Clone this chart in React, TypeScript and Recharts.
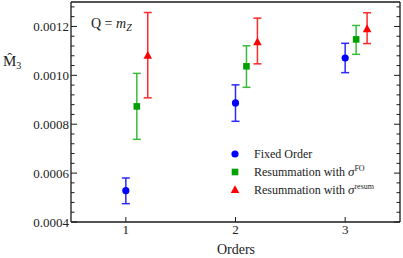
import React from 'react';
import { ScatterChart, Scatter, XAxis, YAxis, ErrorBar, Legend } from 'recharts';

const orders = [1, 2, 3];

const fixedValues = [0.000528, 0.000887, 0.001071];
const fixedLow = [0.000475, 0.000812, 0.001011];
const fixedHigh = [0.00058, 0.000961, 0.001131];

const resumFOValues = [0.000873, 0.001037, 0.001147];
const resumFOLow = [0.000738, 0.000951, 0.001086];
const resumFOHigh = [0.001008, 0.001121, 0.001204];

const resumValues = [0.00108, 0.001135, 0.001189];
const resumLow = [0.000908, 0.001047, 0.00113];
const resumHigh = [0.001257, 0.001234, 0.001256];

const xTicks = [1, 2, 3];
const yMajorTicks = [0.0004, 0.0006, 0.0008, 0.001, 0.0012];
const yTickLabels = ['0.0004', '0.0006', '0.0008', '0.0010', '0.0012'];
const yAllTicks = [
  0.0004, 0.00044, 0.00048, 0.00052, 0.00056, 0.0006, 0.00064, 0.00068, 0.00072, 0.00076,
  0.0008, 0.00084, 0.00088, 0.00092, 0.00096, 0.001, 0.00104, 0.00108, 0.00112, 0.00116,
  0.0012, 0.00124, 0.00128,
];

const offsets = [0, 0.1, 0.2];

const build = (vals: number[], lo: number[], hi: number[], off: number) =>
  orders.map((o, i) => ({ x: o + off, y: vals[i], err: [vals[i] - lo[i], hi[i] - vals[i]] }));

const fixedData = build(fixedValues, fixedLow, fixedHigh, offsets[0]);
const resumFOData = build(resumFOValues, resumFOLow, resumFOHigh, offsets[1]);
const resumData = build(resumValues, resumLow, resumHigh, offsets[2]);

const BLUE = '#0000ff';
const BLUE_BAR = '#2a2aff';
const GREEN = '#00a000';
const GREEN_BAR = '#3cbc3c';
const RED = '#ff0000';
const RED_BAR = '#ff2a2a';
const FRAME = '#1a1a1a';
const FONT = '"Liberation Serif", "Times New Roman", "DejaVu Serif", serif';
const TXT = { fontFamily: FONT };

const isMajor = (v: number) => yMajorTicks.some((m) => Math.abs(m - v) < 1e-9);
const labelFor = (v: number) => {
  const i = yMajorTicks.findIndex((m) => Math.abs(m - v) < 1e-9);
  return i >= 0 ? yTickLabels[i] : '';
};

const LeftTick = (props: any) => {
  const { x, y, payload } = props;
  const major = isMajor(payload.value);
  return (
    <g>
      <line x1={x} y1={y} x2={x + (major ? 6 : 3.5)} y2={y} stroke={FRAME} strokeWidth={1} />
      {major && (
        <text x={x - 2} y={y + 4.5} textAnchor="end" style={TXT} fontSize={13} fill="#222">
          {labelFor(payload.value)}
        </text>
      )}
    </g>
  );
};

const RightTick = (props: any) => {
  const { x, y, payload } = props;
  const major = isMajor(payload.value);
  return <line x1={x} y1={y} x2={x - (major ? 6 : 3.5)} y2={y} stroke={FRAME} strokeWidth={1} />;
};

const BottomTick = (props: any) => {
  const { x, y, payload } = props;
  return (
    <g>
      <line x1={x} y1={y} x2={x} y2={y - 5} stroke={FRAME} strokeWidth={1} />
      <text x={x} y={y + 12} textAnchor="middle" style={TXT} fontSize={13} fill="#222">
        {payload.value}
      </text>
    </g>
  );
};

const Circle = (props: any) => <circle cx={props.cx} cy={props.cy} r={3.6} fill={BLUE} />;
const Square = (props: any) => (
  <rect x={props.cx - 3.3} y={props.cy - 3.3} width={6.6} height={6.6} fill={GREEN} />
);
const Triangle = (props: any) => {
  const { cx, cy } = props;
  return <polygon points={`${cx},${cy - 4.8} ${cx + 4.3},${cy + 3} ${cx - 4.3},${cy + 3}`} fill={RED} />;
};

const legendItems = [
  { key: 'fo', symbol: 'circle', main: 'Fixed Order', sup: '' },
  { key: 'rfo', symbol: 'square', main: 'Resummation with ', sup: 'FO' },
  { key: 'rr', symbol: 'triangle', main: 'Resummation with ', sup: 'resum' },
];

const LegendContent = () => (
  <svg width={170} height={56} style={{ display: 'block', overflow: 'visible' }}>
    {legendItems.map((it, i) => {
      const cy = 9 + i * 18;
      return (
        <g key={it.key}>
          {it.symbol === 'circle' && <circle cx={5} cy={cy} r={3.6} fill={BLUE} />}
          {it.symbol === 'square' && <rect x={1.7} y={cy - 3.3} width={6.6} height={6.6} fill={GREEN} />}
          {it.symbol === 'triangle' && (
            <polygon points={`5,${cy - 4.8} 9.3,${cy + 3} 0.7,${cy + 3}`} fill={RED} />
          )}
          <text x={24} y={cy + 4} style={TXT} fontSize={12} fill="#222">
            {it.main}
            {it.sup && (
              <>
                <tspan fontStyle="italic" fontSize={13}>σ</tspan>
                <tspan fontSize={8} dy={-5.5}>{it.sup}</tspan>
              </>
            )}
          </text>
        </g>
      );
    })}
  </svg>
);

export default function App() {
  return (
    <div style={{ position: 'absolute', left: 0, top: 0, width: 403, height: 258, background: '#fff' }}>
      <ScatterChart width={403} height={258} margin={{ top: 1, right: 2, bottom: 35, left: 70 }}>
        <XAxis
          xAxisId="b"
          dataKey="x"
          type="number"
          domain={[0.5, 3.5]}
          ticks={xTicks}
          height={1}
          tickSize={0}
          tickMargin={0}
          tick={<BottomTick />}
          axisLine={{ stroke: FRAME, strokeWidth: 1.3 }}
          tickLine={false}
          allowDataOverflow
        />
        <XAxis
          xAxisId="t"
          orientation="top"
          type="number"
          domain={[0.5, 3.5]}
          height={1}
          tick={false}
          tickLine={false}
          axisLine={{ stroke: FRAME, strokeWidth: 1.3 }}
          allowDataOverflow
        />
        <YAxis
          yAxisId="l"
          dataKey="y"
          type="number"
          domain={[0.0004, 0.0013]}
          ticks={yAllTicks}
          interval={0}
          width={1}
          tickSize={0}
          tickMargin={0}
          tick={<LeftTick />}
          tickLine={false}
          axisLine={{ stroke: FRAME, strokeWidth: 1.3 }}
          allowDataOverflow
        />
        <YAxis
          yAxisId="r"
          orientation="right"
          type="number"
          domain={[0.0004, 0.0013]}
          ticks={yAllTicks}
          interval={0}
          width={1}
          tickSize={0}
          tickMargin={0}
          tick={<RightTick />}
          tickLine={false}
          axisLine={{ stroke: FRAME, strokeWidth: 1.3 }}
          allowDataOverflow
        />
        <Scatter
          name="Fixed Order"
          data={fixedData}
          xAxisId="b"
          yAxisId="l"
          shape={<Circle />}
          isAnimationActive={false}
        >
          <ErrorBar dataKey="err" direction="y" width={4} stroke={BLUE_BAR} strokeWidth={1.5} />
        </Scatter>
        <Scatter
          name="Resummation FO"
          data={resumFOData}
          xAxisId="b"
          yAxisId="l"
          shape={<Square />}
          isAnimationActive={false}
        >
          <ErrorBar dataKey="err" direction="y" width={4} stroke={GREEN_BAR} strokeWidth={1.5} />
        </Scatter>
        <Scatter
          name="Resummation resum"
          data={resumData}
          xAxisId="b"
          yAxisId="l"
          shape={<Triangle />}
          isAnimationActive={false}
        >
          <ErrorBar dataKey="err" direction="y" width={4} stroke={RED_BAR} strokeWidth={1.5} />
        </Scatter>
        <Legend
          layout="vertical"
          align="center"
          verticalAlign="middle"
          content={<LegendContent />}
          wrapperStyle={{ position: 'absolute', left: 230, top: 145, width: 170, height: 56 }}
        />
      </ScatterChart>
      <svg
        width={403}
        height={258}
        style={{ position: 'absolute', left: 0, top: 0, pointerEvents: 'none' }}
      >
        <text x={3} y={66} style={TXT} fontSize={15} fill="#222">
          M̂<tspan fontSize={10} dy={3}>3</tspan>
        </text>
        <text x={236} y={254} textAnchor="middle" style={TXT} fontSize={14} fill="#222">
          Orders
        </text>
        <text x={91} y={28} style={TXT} fontSize={14} fill="#222">
          Q = <tspan fontStyle="italic">m</tspan>
          <tspan fontStyle="italic" fontSize={10} dy={3}>Z</tspan>
        </text>
      </svg>
    </div>
  );
}
